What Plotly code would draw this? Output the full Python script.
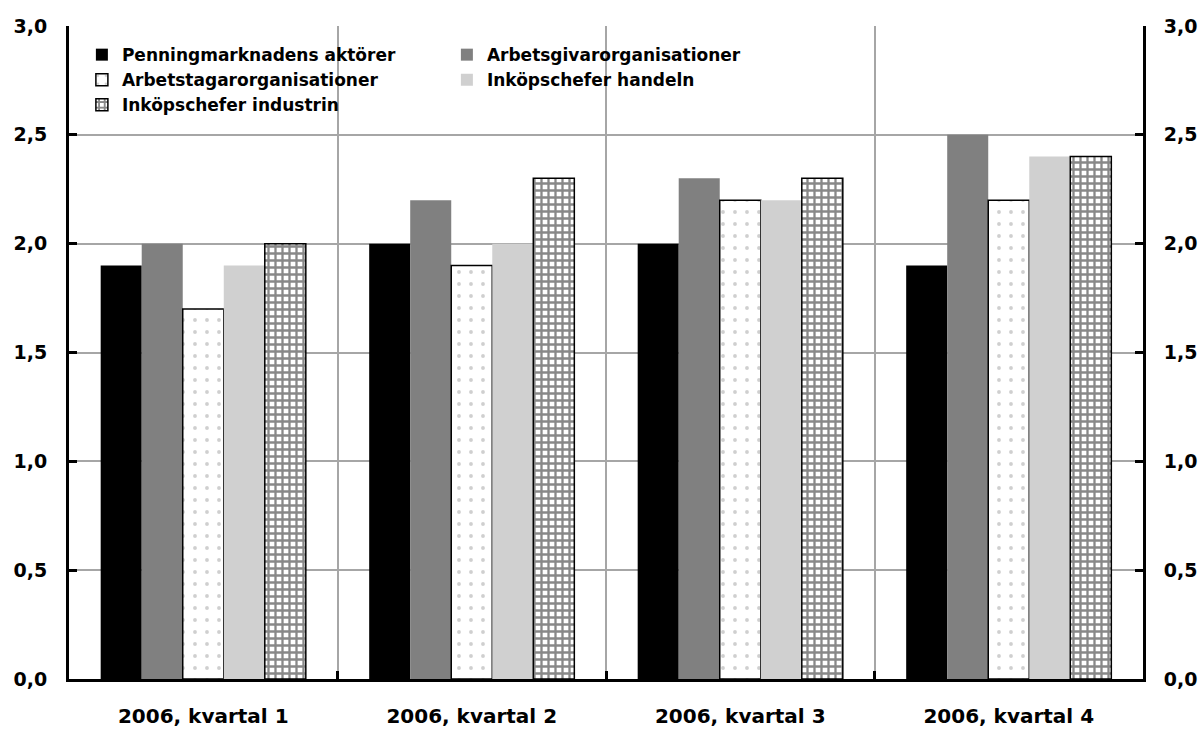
import plotly.graph_objects as go

categories = ["2006, kvartal 1", "2006, kvartal 2", "2006, kvartal 3", "2006, kvartal 4"]

series_names = [
    "Penningmarknadens aktörer",
    "Arbetsgivarorganisationer",
    "Arbetstagarorganisationer",
    "Inköpschefer handeln",
    "Inköpschefer industrin",
]

penningmarknaden = [1.9, 2.0, 2.0, 1.9]
arbetsgivare = [2.0, 2.2, 2.3, 2.5]
arbetstagare = [1.7, 1.9, 2.2, 2.2]
inkop_handeln = [1.9, 2.0, 2.2, 2.4]
inkop_industrin = [2.0, 2.3, 2.3, 2.4]

tick_vals = [0.0, 0.5, 1.0, 1.5, 2.0, 2.5, 3.0]

FONT = "DejaVu Sans"

styles = [
    dict(color="#000000", line=dict(width=0)),
    dict(color="#808080", line=dict(width=0)),
    dict(color="#ffffff", line=dict(color="#000000", width=1.5),
         pattern=dict(shape=".", fgcolor="#a0a0a0", bgcolor="#ffffff", size=12, solidity=0.08)),
    dict(color="#d0d0d0", line=dict(width=0)),
    dict(color="#ffffff", line=dict(color="#000000", width=1.5),
         pattern=dict(shape="+", fgcolor="#111111", bgcolor="#ffffff", size=7, solidity=0.55)),
]

values = [penningmarknaden, arbetsgivare, arbetstagare, inkop_handeln, inkop_industrin]

fig = go.Figure()
for name, vals, st in zip(series_names, values, styles):
    fig.add_trace(go.Bar(x=categories, y=vals, name=name, marker=st))

# invisible trace so the right-hand value axis is drawn
fig.add_trace(go.Scatter(x=categories, y=[0, 0, 0, 0], yaxis="y2", mode="markers",
                         marker=dict(opacity=0), showlegend=False, hoverinfo="skip"))

value_font = dict(family=FONT, size=19, color="#000000", weight="bold")
category_font = dict(family=FONT, size=20, color="#000000", weight="bold")

fig.update_layout(
    width=1204, height=729,
    margin=dict(l=69, r=61, t=26, b=50),
    paper_bgcolor="#ffffff", plot_bgcolor="#ffffff",
    separators=", ",
    barmode="group", bargap=0.236, bargroupgap=0,
    font=dict(family=FONT, color="#000000"),
    legend=dict(
        orientation="h", x=0.012, y=0.983, xanchor="left", yanchor="top",
        entrywidth=320, entrywidthmode="pixels",
        font=dict(family=FONT, size=17, color="#000000", weight="bold"),
        bgcolor="rgba(0,0,0,0)", traceorder="normal",
        itemwidth=30, tracegroupgap=0,
    ),
    xaxis=dict(
        type="category", tickson="boundaries", ticks="inside", ticklen=8, tickwidth=3,
        tickcolor="#000000", showgrid=True, gridcolor="#a6a6a6", gridwidth=1.5,
        showline=True, linecolor="#000000", linewidth=3, automargin=False,
        tickfont=category_font, ticklabelstandoff=17,
    ),
    yaxis=dict(
        range=[0, 3.0], tickvals=tick_vals, tickformat=".1f",
        ticks="inside", ticklen=8, tickwidth=3, tickcolor="#000000",
        showgrid=True, gridcolor="#a6a6a6", gridwidth=1.5,
        showline=True, linecolor="#000000", linewidth=3, zeroline=False, automargin=False,
        tickfont=value_font, ticklabelstandoff=15,
    ),
    yaxis2=dict(
        range=[0, 3.0], tickvals=tick_vals, tickformat=".1f", overlaying="y", side="right",
        ticks="inside", ticklen=8, tickwidth=3, tickcolor="#000000",
        showgrid=False, showline=True, linecolor="#000000", linewidth=3, zeroline=False,
        automargin=False, tickfont=value_font, ticklabelstandoff=14,
    ),
)

fig.write_html("out.html")
